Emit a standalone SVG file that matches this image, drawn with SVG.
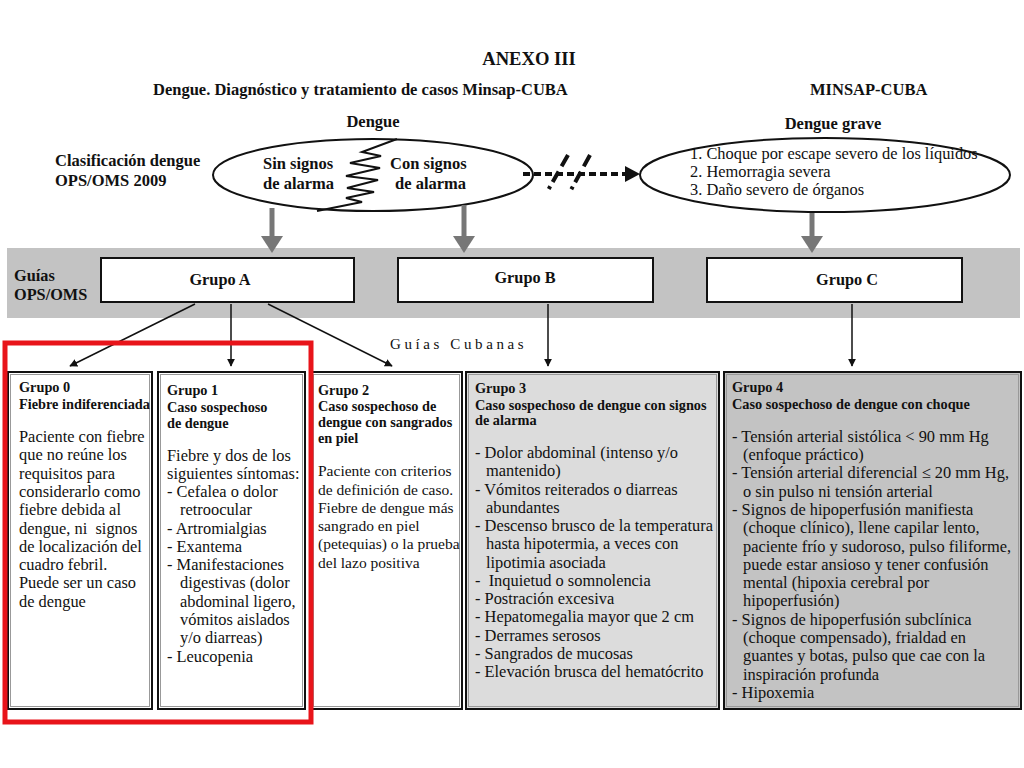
<svg xmlns="http://www.w3.org/2000/svg" width="1024" height="768" viewBox="0 0 1024 768">
<style>
text{font-family:"Liberation Serif","Times New Roman","DejaVu Serif",serif;fill:#111;}
.h{font-weight:bold;font-size:16.5px;}
.t{font-weight:bold;font-size:18.6px;}
.hd{font-weight:bold;font-size:14.3px;}
.b{font-size:16.4px;}
.b2{font-size:15.5px;}
.g{font-weight:bold;font-size:16.3px;}
.box{stroke:#111;stroke-width:2;}
.inner{fill:none;stroke:#999;stroke-width:1;}
.gar{stroke:#777;stroke-width:5;fill:none;}
.gah{fill:#777;}
.bar{stroke:#111;stroke-width:1.5;fill:none;marker-end:url(#ah);}
</style>
<defs>
<marker id="ah" viewBox="0 0 10 10" refX="9" refY="5" markerWidth="8" markerHeight="8" markerUnits="userSpaceOnUse" orient="auto"><path d="M0,0 L10,5 L0,10 z" fill="#111"/></marker>
</defs>
<rect width="1024" height="768" fill="#fff"/>

<g id="titles">
<text class="t" x="529" y="65" text-anchor="middle">ANEXO III</text>
<text class="h" x="153" y="95">Dengue. Diagnóstico y tratamiento de casos Minsap-CUBA</text>
<text class="h" x="810" y="95">MINSAP-CUBA</text>
<text class="h" x="373" y="127" text-anchor="middle">Dengue</text>
<text class="h" x="833" y="129" text-anchor="middle">Dengue grave</text>
<text class="h" x="55" y="166">Clasificación dengue</text>
<text class="h" x="55" y="186">OPS/OMS 2009</text>
</g>

<g id="band">
<rect x="7" y="248" width="1013" height="70" fill="#c3c3c3"/>
<text class="g" x="14" y="281">Guías</text>
<text class="g" x="14" y="300">OPS/OMS</text>
</g>

<g id="dengue">
<ellipse cx="373" cy="175" rx="160" ry="36" fill="#fff" stroke="#111" stroke-width="2"/>
<path d="M397,139 L362,152 L381,156 L350,163 L380,168 L346,176 L378,180 L347,188 L374,192 L346,198 L362,202 L317,211" fill="none" stroke="#111" stroke-width="2"/>
<text class="h" x="263" y="169">Sin signos</text>
<text class="h" x="263" y="189">de alarma</text>
<text class="h" x="390" y="169">Con signos</text>
<text class="h" x="395" y="189">de alarma</text>
</g>

<g id="dengue-grave">
<ellipse cx="825" cy="175" rx="185" ry="37" fill="#fff" stroke="#111" stroke-width="2"/>
<text class="b" x="690" y="159">1. Choque por escape severo de los líquidos</text>
<text class="b" x="690" y="177">2. Hemorragia severa</text>
<text class="b" x="690" y="195">3. Daño severo de órganos</text>
</g>

<g id="grupoA">
<rect class="box" x="101" y="258" width="253" height="44" fill="#fff"/>
<text class="g" x="220" y="285" text-anchor="middle">Grupo A</text>
</g>
<g id="grupoB">
<rect class="box" x="398" y="258" width="255" height="44" fill="#fff"/>
<text class="g" x="525" y="283" text-anchor="middle">Grupo B</text>
</g>
<g id="grupoC">
<rect class="box" x="707" y="258" width="255" height="44" fill="#fff"/>
<text class="g" x="847" y="285" text-anchor="middle">Grupo C</text>
</g>

<g id="connectors">
<path class="gar" d="M272,208 V238"/>
<path class="gah" d="M261,236 H283 L272,253 z"/>
<path class="gar" d="M464,205 V238"/>
<path class="gah" d="M453,236 H475 L464,253 z"/>
<path class="gar" d="M812,213 V238"/>
<path class="gah" d="M801,236 H823 L812,253 z"/>
<path d="M523,174 H626" stroke="#111" stroke-width="4" stroke-dasharray="7 4" fill="none"/>
<path d="M625,166 L640,174 L625,182 z" fill="#111"/>
<path d="M568,155 L543,199" stroke="#111" stroke-width="4" stroke-dasharray="13 6 12 5 3 40" fill="none"/>
<path d="M590,155 L566,199" stroke="#111" stroke-width="4" stroke-dasharray="13 6 12 5 3 40" fill="none"/>
<path class="bar" d="M195,304 L70,366"/>
<path class="bar" d="M231,304 V366"/>
<path class="bar" d="M268,304 L392,366"/>
<path class="bar" d="M548,304 V366"/>
<path class="bar" d="M852,304 V366"/>
</g>

<text x="390" y="349" style="font-size:15px;letter-spacing:3.6px">Guías Cubanas</text>

<g id="grupo0">
<rect class="box" x="8" y="372" width="144" height="337" fill="#fff"/>
<rect class="inner" x="10.5" y="374.5" width="139" height="332"/>
<text class="hd" x="19" y="392">Grupo 0</text>
<text class="hd" x="19" y="409">Fiebre indiferenciada</text>
<text class="b" x="19" y="442">Paciente con fiebre</text>
<text class="b" x="19" y="460">que no reúne los</text>
<text class="b" x="19" y="479">requisitos para</text>
<text class="b" x="19" y="497">considerarlo como</text>
<text class="b" x="19" y="515">fiebre debida al</text>
<text class="b" x="19" y="534" xml:space="preserve">dengue, ni  signos</text>
<text class="b" x="19" y="552">de localización del</text>
<text class="b" x="19" y="570">cuadro febril.</text>
<text class="b" x="19" y="588">Puede ser un caso</text>
<text class="b" x="19" y="607">de dengue</text>
</g>

<g id="grupo1">
<rect class="box" x="158" y="372" width="147" height="337" fill="#fff"/>
<rect class="inner" x="160.5" y="374.5" width="142" height="332"/>
<text class="hd" x="167" y="395">Grupo 1</text>
<text class="hd" x="167" y="412">Caso sospechoso</text>
<text class="hd" x="167" y="428">de dengue</text>
<text class="b" x="167" y="461">Fiebre y dos de los</text>
<text class="b" x="167" y="479">siguientes síntomas:</text>
<text class="b" x="167" y="497">- Cefalea o dolor</text>
<text class="b" x="180" y="515">retroocular</text>
<text class="b" x="167" y="534">- Artromialgias</text>
<text class="b" x="167" y="552">- Exantema</text>
<text class="b" x="167" y="570">- Manifestaciones</text>
<text class="b" x="180" y="588">digestivas (dolor</text>
<text class="b" x="180" y="607">abdominal ligero,</text>
<text class="b" x="180" y="625">vómitos aislados</text>
<text class="b" x="180" y="643">y/o diarreas)</text>
<text class="b" x="167" y="662">- Leucopenia</text>
</g>

<g id="grupo2">
<rect class="box" x="311" y="372" width="151" height="337" fill="#fff"/>
<rect class="inner" x="313.5" y="374.5" width="146" height="332"/>
<text class="hd" x="318" y="395">Grupo 2</text>
<text class="hd" x="318" y="411">Caso sospechoso de</text>
<text class="hd" x="318" y="427">dengue con sangrados</text>
<text class="hd" x="318" y="443">en piel</text>
<text class="b2" x="318" y="476">Paciente con criterios</text>
<text class="b2" x="318" y="495">de definición de caso.</text>
<text class="b2" x="318" y="513">Fiebre de dengue más</text>
<text class="b2" x="318" y="531">sangrado en piel</text>
<text class="b2" x="318" y="549">(petequias) o la prueba</text>
<text class="b2" x="318" y="568">del lazo positiva</text>
</g>

<g id="grupo3">
<rect class="box" x="466" y="372" width="253" height="337" fill="#dcdcdc"/>
<rect class="inner" x="468.5" y="374.5" width="248" height="332"/>
<text class="hd" x="475" y="393">Grupo 3</text>
<text class="hd" x="475" y="410">Caso sospechoso de dengue con signos</text>
<text class="hd" x="475" y="425">de alarma</text>
<text class="b" x="475" y="458">- Dolor abdominal (intenso y/o</text>
<text class="b" x="486" y="476">mantenido)</text>
<text class="b" x="475" y="495">- Vómitos reiterados o diarreas</text>
<text class="b" x="486" y="513">abundantes</text>
<text class="b" x="475" y="531">- Descenso brusco de la temperatura</text>
<text class="b" x="486" y="549">hasta hipotermia, a veces con</text>
<text class="b" x="486" y="568">lipotimia asociada</text>
<text class="b" x="475" y="586" xml:space="preserve">-  Inquietud o somnolencia</text>
<text class="b" x="475" y="604">- Postración excesiva</text>
<text class="b" x="475" y="622">- Hepatomegalia mayor que 2 cm</text>
<text class="b" x="475" y="641">- Derrames serosos</text>
<text class="b" x="475" y="659">- Sangrados de mucosas</text>
<text class="b" x="475" y="677">- Elevación brusca del hematócrito</text>
</g>

<g id="grupo4">
<rect class="box" x="724" y="372" width="297" height="337" fill="#c3c3c3"/>
<rect class="inner" x="726.5" y="374.5" width="292" height="332"/>
<text class="hd" x="732" y="392">Grupo 4</text>
<text class="hd" x="732" y="409">Caso sospechoso de dengue con choque</text>
<text class="b" x="732" y="442">- Tensión arterial sistólica &lt; 90 mm Hg</text>
<text class="b" x="743" y="460">(enfoque práctico)</text>
<text class="b" x="732" y="478">- Tensión arterial diferencial ≤ 20 mm Hg,</text>
<text class="b" x="743" y="497">o sin pulso ni tensión arterial</text>
<text class="b" x="732" y="515">- Signos de hipoperfusión manifiesta</text>
<text class="b" x="743" y="533">(choque clínico), llene capilar lento,</text>
<text class="b" x="743" y="552">paciente frío y sudoroso, pulso filiforme,</text>
<text class="b" x="743" y="570">puede estar ansioso y tener confusión</text>
<text class="b" x="743" y="588">mental (hipoxia cerebral por</text>
<text class="b" x="743" y="606">hipoperfusión)</text>
<text class="b" x="732" y="625">- Signos de hipoperfusión subclínica</text>
<text class="b" x="743" y="643">(choque compensado), frialdad en</text>
<text class="b" x="743" y="661">guantes y botas, pulso que cae con la</text>
<text class="b" x="743" y="680">inspiración profunda</text>
<text class="b" x="732" y="698">- Hipoxemia</text>
</g>

<rect id="highlight" x="5" y="343" width="306" height="379" fill="none" stroke="#e8141a" stroke-width="5"/>
</svg>
